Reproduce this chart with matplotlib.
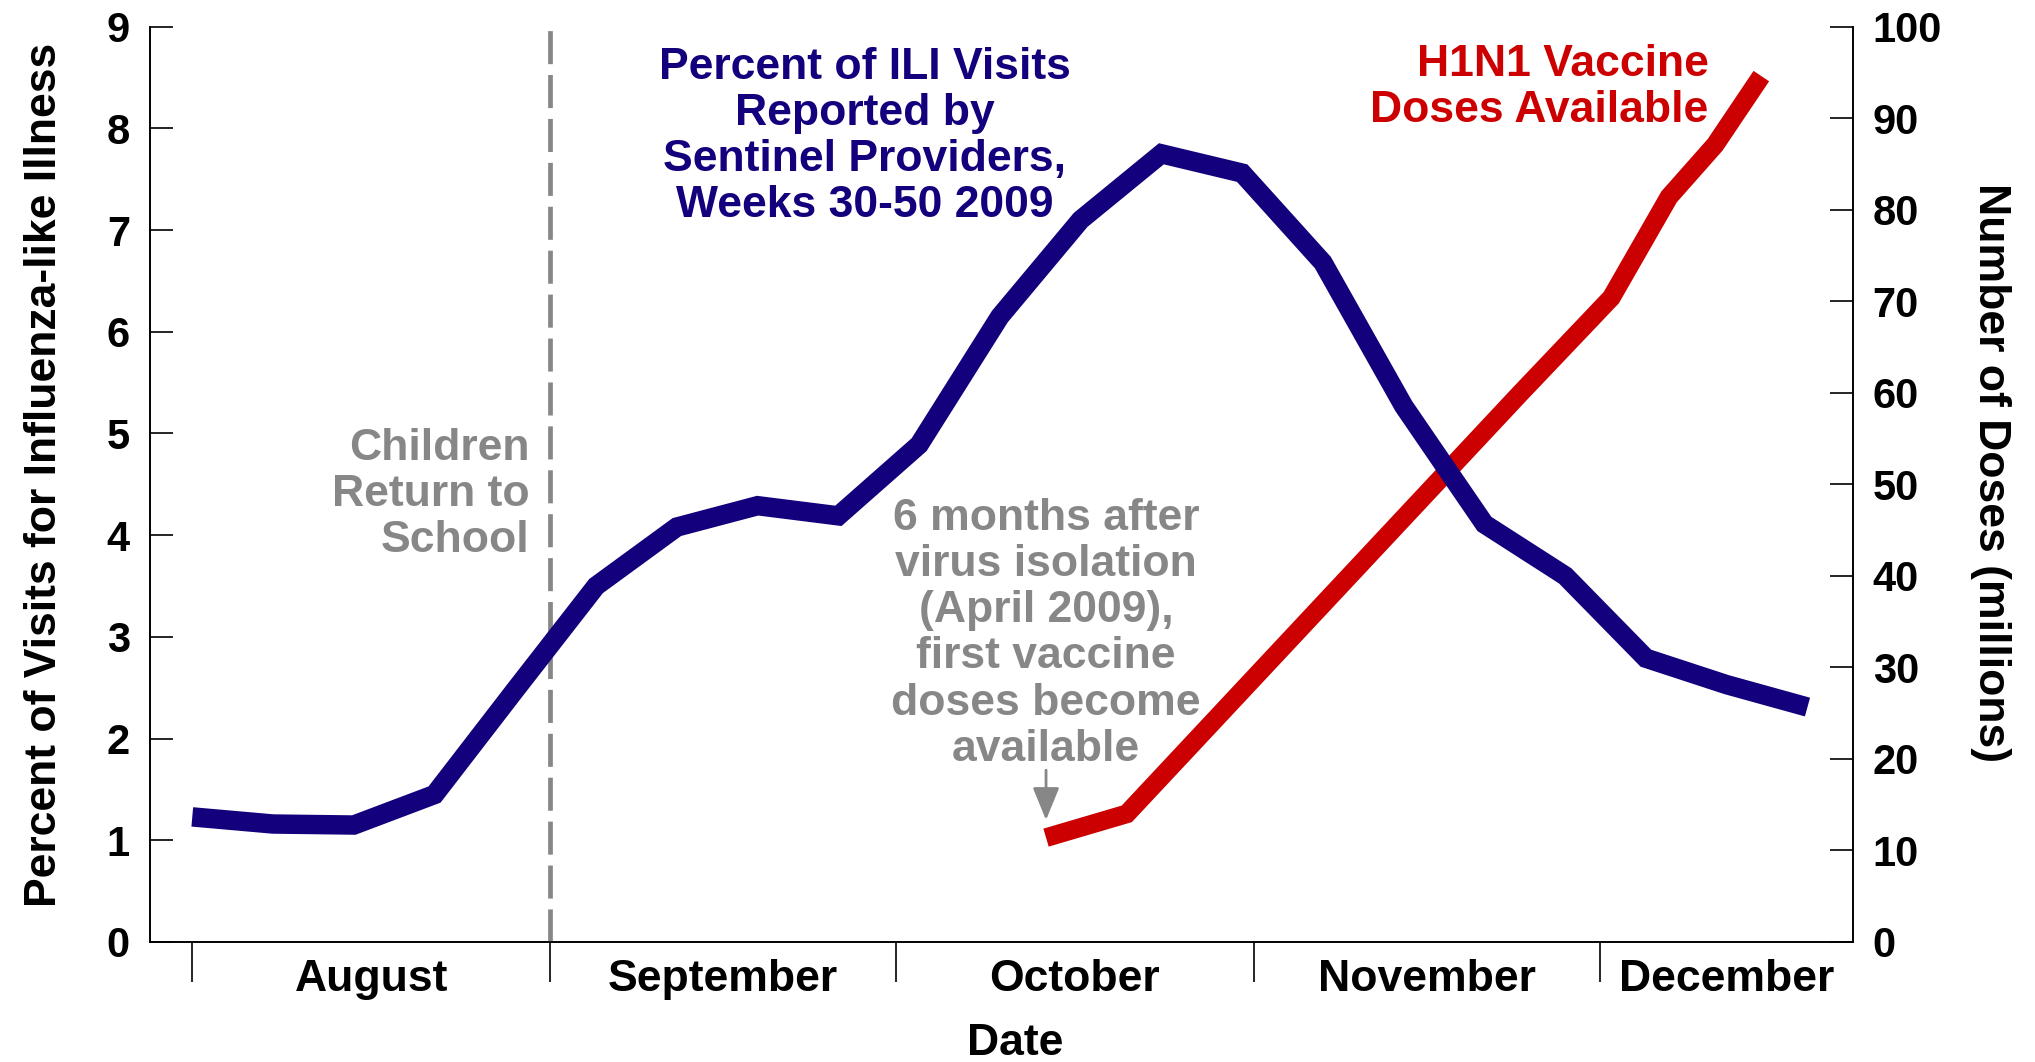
import datetime as dt
import matplotlib
matplotlib.use("Agg")
import matplotlib.pyplot as plt
import matplotlib.dates as mdates

plt.rcParams['font.family'] = ['Liberation Sans', 'DejaVu Sans']
plt.rcParams['font.weight'] = 'bold'
plt.rcParams['axes.labelweight'] = 'bold'

########## DATA ##########
# percent of ILI visits, weeks 30-50 2009 (one point per week)
ili_start = dt.date(2009, 8, 1)
ili_pct = [1.23, 1.16, 1.15, 1.45, 2.48, 3.50, 4.08, 4.29, 4.19, 4.89, 6.15,
           7.10, 7.75, 7.56, 6.68, 5.27, 4.11, 3.60, 2.79, 2.53, 2.31]
ili_dates = [ili_start + dt.timedelta(weeks=i) for i in range(len(ili_pct))]

# H1N1 vaccine doses available (millions)
dose_dates = [dt.date(2009, 10, 14), dt.date(2009, 10, 21), dt.date(2009, 11, 24),
              dt.date(2009, 12, 2), dt.date(2009, 12, 7), dt.date(2009, 12, 11),
              dt.date(2009, 12, 15)]
doses = [11.4, 14.0, 59.8, 70.4, 81.4, 87.1, 94.6]

months = ['August', 'September', 'October', 'November', 'December']
month_starts = [dt.date(2009, m, 1) for m in range(8, 13)]
school_date = dt.date(2009, 9, 1)
first_dose_date = dt.date(2009, 10, 14)
##########################

BLUE = '#13007c'
RED = '#cc0000'
GRAY = '#878787'
FS = 32
LS = 1.16

fig = plt.figure(figsize=(20.35, 10.62), dpi=100)
ax = fig.add_axes([0.0737, 0.1130, 0.8367, 0.8619])
ax2 = ax.twinx()
# blue line goes over the red one
ax.set_zorder(2)
ax2.set_zorder(1)
ax.patch.set_visible(False)

ax.plot(ili_dates, ili_pct, color=BLUE, lw=14, solid_capstyle='butt',
        solid_joinstyle='miter', zorder=3)
ax2.plot(dose_dates, doses, color=RED, lw=13.5, solid_capstyle='butt',
         solid_joinstyle='miter')
ax.axvline(school_date, color=GRAY, lw=3.4, dashes=(7, 2.3), zorder=1)

x0 = mdates.date2num(dt.datetime(2009, 7, 28, 8))
x1 = mdates.date2num(dt.datetime(2009, 12, 22, 22))
ax.set_xlim(x0, x1)
ax.set_ylim(0, 9)
ax2.set_ylim(0, 100)

# month ticks at the borders, names in the middle
ax.set_xticks([mdates.date2num(d) for d in month_starts])
ax.set_xticklabels([''] * len(month_starts))
ends = [mdates.date2num(d) for d in month_starts[1:]] + [x1]
mids = [(mdates.date2num(a) + b) / 2 for a, b in zip(month_starts, ends)]
ax.set_xticks(mids, months, minor=True)
ax.tick_params(axis='x', which='major', direction='out', length=29, width=1.2,
               labelbottom=False)
ax.tick_params(axis='x', which='minor', length=0, pad=12, labelsize=FS)

ax.set_yticks(range(0, 10))
ax2.set_yticks(range(0, 101, 10))
ax.tick_params(axis='y', direction='in', length=16.5, width=1.2, pad=14.4,
               labelsize=30)
ax2.tick_params(axis='y', direction='in', length=16.5, width=1.2, pad=14.4,
                labelsize=30)

for a in (ax, ax2):
    a.spines['top'].set_visible(False)
    for s in ('left', 'right', 'bottom'):
        a.spines[s].set_linewidth(1.2)

ax.set_xlabel('Date', fontsize=FS, labelpad=17)
ax.xaxis.label.set_x(0.508)
ax.set_ylabel('Percent of Visits for Influenza-like Illness', fontsize=FS,
              labelpad=30)
ax.yaxis.label.set_y(0.51)
ax2.set_ylabel('Number of Doses (millions)', fontsize=FS, rotation=270,
               va='bottom', labelpad=20)
ax2.yaxis.label.set_y(0.513)

# annotations
ax.text(mdates.date2num(dt.datetime(2009, 8, 30, 5)), 4.40,
        'Children\nReturn to\nSchool', color=GRAY, fontsize=FS,
        ha='right', va='center', linespacing=LS)
ax.text(mdates.date2num(dt.datetime(2009, 9, 28, 7)), 7.92,
        'Percent of ILI Visits\nReported by\nSentinel Providers,\nWeeks 30-50 2009',
        color=BLUE, fontsize=FS, ha='center', va='center', linespacing=LS)
ax.text(mdates.date2num(dt.datetime(2009, 12, 10, 10)), 8.40,
        'H1N1 Vaccine\nDoses Available', color=RED, fontsize=FS,
        ha='right', va='center', linespacing=LS)
ax.text(mdates.date2num(first_dose_date), 3.03,
        '6 months after\nvirus isolation\n(April 2009),\nfirst vaccine\ndoses become\navailable',
        color=GRAY, fontsize=FS, ha='center', va='center', linespacing=LS)
ax.annotate('', xy=(mdates.date2num(first_dose_date), 1.20),
            xytext=(mdates.date2num(first_dose_date), 1.69),
            arrowprops=dict(arrowstyle='-|>,head_length=1.0,head_width=0.41',
                            mutation_scale=20, color=GRAY, lw=2,
                            shrinkA=0, shrinkB=0))

fig.savefig('out.png', dpi=100)
